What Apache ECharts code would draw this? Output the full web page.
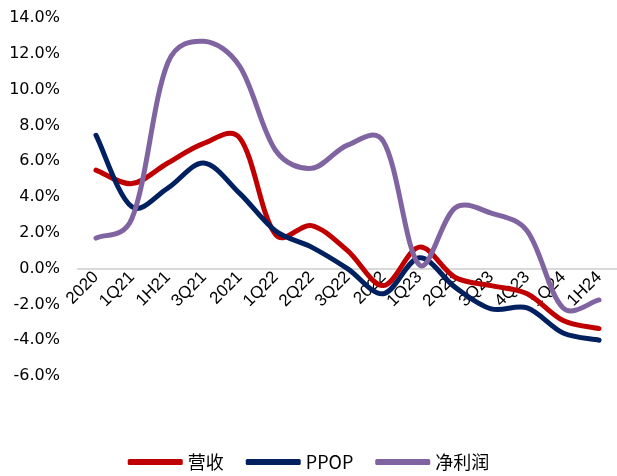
<!DOCTYPE html>
<html><head><meta charset="utf-8">
<script src="https://cdn.jsdelivr.net/npm/echarts@6/dist/echarts.min.js"></script>
<style>html,body{margin:0;padding:0;background:#fff}#c{width:617px;height:476px}</style>
</head><body><div id="c"></div>
<script>
const categories = ['2020','1Q21','1H21','3Q21','2021','1Q22','2Q22','3Q22','2022','1Q23','2Q23','3Q23','4Q23','1Q24','1H24'];
const revenue = [5.5, 4.75, 5.9, 7.0, 7.3, 1.9, 2.4, 1.0, -0.95, 1.2, -0.5, -0.95, -1.4, -2.9, -3.35];
const ppop = [7.45, 3.45, 4.5, 5.9, 4.2, 2.1, 1.2, 0.0, -1.4, 0.6, -1.05, -2.25, -2.2, -3.6, -4.0];
const netProfit = [1.7, 2.8, 11.5, 12.7, 11.3, 6.6, 5.6, 6.9, 7.1, 0.2, 3.4, 3.1, 2.1, -2.2, -1.75];
const yMin = -6, yMax = 14, yInterval = 2;

const gridTop = 18, gridBottom = 100, chartH = 476;
const zeroOffset = -((chartH - gridTop - gridBottom) * (0 - yMin) / (yMax - yMin));

const font = '"Noto Sans CJK SC", "Noto Sans", sans-serif';
const chart = echarts.init(document.getElementById('c'), null, {renderer: 'canvas'});

function dist(a, b) { return Math.hypot(a[0] - b[0], a[1] - b[1]); }
function splinePath(pts) {
  const n = pts.length;
  let d = 'M' + pts[0][0] + ' ' + pts[0][1];
  function arm(p0, p1, p2, side) {
    const d01 = dist(p0, p1), d12 = dist(p1, p2);
    const s = d01 + d12;
    const w = s > 0 ? (side > 0 ? d12 : d01) / s : 0.5;
    const f = (0.5 * 0.5 + 0.5 * w) / 3;
    return [(p2[0] - p0[0]) * f, (p2[1] - p0[1]) * f];
  }
  for (let i = 0; i < n - 1; i++) {
    const p0 = pts[Math.max(i - 1, 0)], p1 = pts[i], p2 = pts[i + 1], p3 = pts[Math.min(i + 2, n - 1)];
    const a1 = arm(p0, p1, p2, 1), a2 = arm(p1, p2, p3, -1);
    const c1 = [p1[0] + a1[0], p1[1] + a1[1]];
    const c2 = [p2[0] - a2[0], p2[1] - a2[1]];
    d += ' C' + c1[0] + ' ' + c1[1] + ' ' + c2[0] + ' ' + c2[1] + ' ' + p2[0] + ' ' + p2[1];
  }
  return d;
}
function mk(name, values, color) {
  return {
    name, type: 'custom', clip: false,
    data: values.map((v, i) => [i, v]),
    encode: {x: 0, y: 1},
    itemStyle: {color},
    renderItem: function (params, api) {
      if (params.dataIndex !== 0) return null;
      const pts = values.map((v, i) => api.coord([i, v]));
      return {type: 'path', shape: {pathData: splinePath(pts)},
        style: {stroke: color, lineWidth: 5, fill: null, lineCap: 'round', lineJoin: 'round'}};
    }
  };
}
chart.setOption({
  animation: false,
  grid: {left: 78, right: -5, top: gridTop, bottom: gridBottom},
  legend: {
    bottom: 0, left: 'center', itemWidth: 55, itemHeight: 6, itemGap: 22,
    icon: 'roundRect',
    textStyle: {fontFamily: font, fontSize: 18, color: '#000'},
    data: ['营收','PPOP','净利润']
  },
  xAxis: {
    type: 'category', data: categories, boundaryGap: true, offset: zeroOffset,
    axisLine: {onZero: false, lineStyle: {color: '#d9d9d9', width: 2}},
    axisTick: {show: false},
    axisLabel: {rotate: 45, interval: 0, fontFamily: '"Liberation Sans", Arial, sans-serif', fontSize: 17, color: '#000', margin: 6}
  },
  yAxis: {
    type: 'value', min: yMin, max: yMax, interval: yInterval,
    splitLine: {show: false}, axisLine: {show: false}, axisTick: {show: false},
    axisLabel: {fontFamily: '"DejaVu Sans", sans-serif', fontSize: 16, color: '#000', margin: 18,
      formatter: v => v.toFixed(1) + '%'}
  },
  series: [mk('营收', revenue, '#C00000'), mk('PPOP', ppop, '#002060'), mk('净利润', netProfit, '#8064A2')]
});
</script></body></html>
